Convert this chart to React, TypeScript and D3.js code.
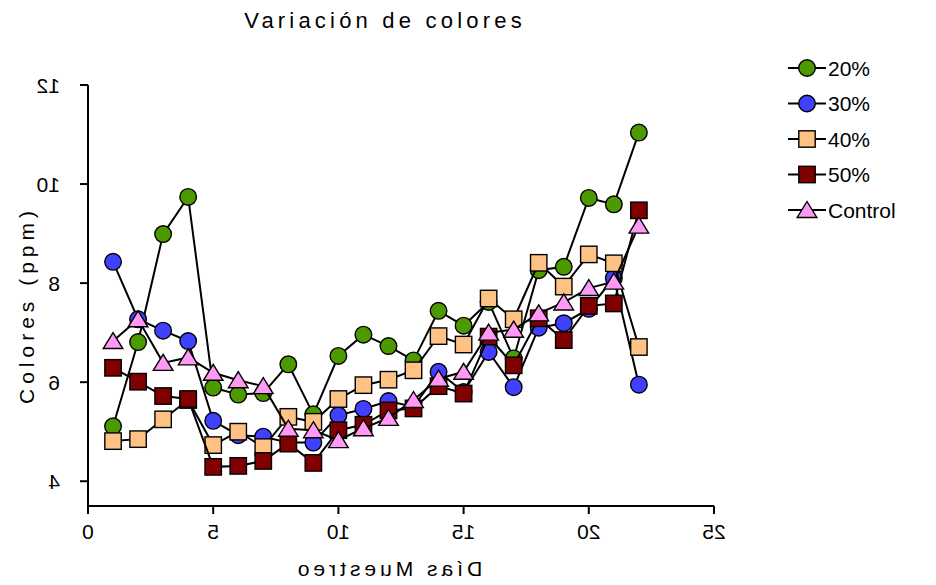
import React from 'react';
import * as d3 from 'd3';

// Sampling days (x) and colour readings (ppm) for each treatment
const days = [1, 2, 3, 4, 5, 6, 7, 8, 9, 10, 11, 12, 13, 14, 15, 16, 17, 18, 19, 20, 21, 22];
const serie20 = [5.11, 6.81, 8.99, 9.74, 5.89, 5.75, 5.78, 6.36, 5.35, 6.53, 6.96, 6.73, 6.44, 7.44, 7.14, 7.62, 6.48, 8.26, 8.33, 9.72, 9.59, 11.04];
const serie30 = [8.43, 7.27, 7.04, 6.83, 5.22, 4.93, 4.9, 4.78, 4.78, 5.33, 5.46, 5.62, 5.5, 6.21, 5.8, 6.61, 5.9, 7.1, 7.19, 7.48, 8.1, 5.95];
const serie40 = [4.81, 4.85, 5.25, 5.64, 4.73, 5.0, 4.69, 5.3, 5.2, 5.66, 5.94, 6.05, 6.24, 6.93, 6.76, 7.69, 7.27, 8.41, 7.93, 8.58, 8.4, 6.71];
const serie50 = [6.29, 6.01, 5.72, 5.66, 4.29, 4.31, 4.41, 4.76, 4.37, 5.03, 5.14, 5.43, 5.47, 5.92, 5.77, 6.92, 6.34, 7.29, 6.85, 7.54, 7.59, 9.47];
const control = [6.83, 7.27, 6.39, 6.5, 6.19, 6.04, 5.92, 5.06, 5.03, 4.83, 5.07, 5.28, 5.64, 6.07, 6.21, 7.0, 7.06, 7.39, 7.61, 7.9, 8.03, 9.16];

const seriesNames = ['20%', '30%', '40%', '50%', 'Control'];
const xTicks = [0, 5, 10, 15, 20, 25];
const yTicks = [4, 6, 8, 10, 12];

const title = 'Variación de colores';
const xTitle = 'Días Muestreo';
const yTitle = 'Colores (ppm)';

type Shape = 'circle' | 'square' | 'triangle';
const seriesValues = [serie20, serie30, serie40, serie50, control];
const seriesColors = ['#4d9900', '#4040ff', '#ffc285', '#800000', '#ff99f5'];
const seriesShapes: Shape[] = ['circle', 'circle', 'square', 'square', 'triangle'];

const W = 936;
const H = 585;
const FONT = '"Liberation Sans", Arial, sans-serif';

function Marker({ shape, cx, cy, fill }: { shape: Shape; cx: number; cy: number; fill: string }) {
  const common = { fill, stroke: '#000', strokeWidth: 1.4 };
  if (shape === 'circle') return <circle cx={cx} cy={cy} r={8.3} {...common} />;
  if (shape === 'square') return <rect x={cx - 8.2} y={cy - 8.2} width={16.4} height={16.4} {...common} />;
  const p = `M${cx},${cy - 8.5}L${cx + 9.8},${cy + 7.5}L${cx - 9.8},${cy + 7.5}Z`;
  return <path d={p} {...common} />;
}

export default function App() {
  const x = d3.scaleLinear().domain([0, 25]).range([88, 714]);
  const y = d3.scaleLinear().domain([3.5, 12]).range([506, 85]);
  const line = d3
    .line<number>()
    .x((_, i) => x(days[i]))
    .y((d) => y(d));

  const legendY = (i: number) => 68 + i * 35.5;

  return (
    <svg
      width={W}
      height={H}
      viewBox={`0 0 ${W} ${H}`}
      style={{ position: 'absolute', left: 0, top: 0, background: '#fff' }}
      fontFamily={FONT}
    >
      <rect x={0} y={0} width={W} height={H} fill="#fff" />

      {/* title */}
      <text x={385} y={28} textAnchor="middle" fontSize={22} letterSpacing={4.2} fill="#000">
        {title}
      </text>

      {/* y axis */}
      <line x1={x(0)} x2={x(0)} y1={y(12)} y2={y(3.5)} stroke="#000" strokeWidth={2} />
      {yTicks.map((t) => (
        <g key={`yt${t}`}>
          <line x1={x(0) - 8} x2={x(0)} y1={y(t)} y2={y(t)} stroke="#000" strokeWidth={2} />
          <text
            transform={`translate(0,${y(t) + 7.5}) scale(-1,1)`}
            x={-60}
            textAnchor="start"
            fontSize={21}
            fill="#000"
          >
            {t}
          </text>
        </g>
      ))}

      {/* x axis */}
      <line x1={x(0)} x2={x(25)} y1={y(3.5)} y2={y(3.5)} stroke="#000" strokeWidth={2} />
      {xTicks.map((t) => (
        <g key={`xt${t}`}>
          <line x1={x(t)} x2={x(t)} y1={y(3.5)} y2={y(3.5) + 8} stroke="#000" strokeWidth={2} />
          <text
            transform={`translate(${x(t)},${y(3.5) + 33}) scale(-1,1)`}
            textAnchor="middle"
            fontSize={21}
            fill="#000"
          >
            {t}
          </text>
        </g>
      ))}

      {/* axis titles */}
      <text
        transform={`translate(388,576) scale(-1,1)`}
        textAnchor="middle"
        fontSize={21}
        letterSpacing={4}
        fill="#000"
      >
        {xTitle}
      </text>
      <text
        transform={`translate(34,305) rotate(-90)`}
        textAnchor="middle"
        fontSize={21}
        letterSpacing={5}
        fill="#000"
      >
        {yTitle}
      </text>

      {/* series: line then markers, in series order */}
      {seriesValues.map((vals, si) => (
        <g key={`s${si}`}>
          <path d={line(vals) || ''} fill="none" stroke="#000" strokeWidth={2} />
          {vals.map((v, i) => (
            <Marker key={i} shape={seriesShapes[si]} cx={x(days[i])} cy={y(v)} fill={seriesColors[si]} />
          ))}
        </g>
      ))}

      {/* legend */}
      {seriesNames.map((name, i) => (
        <g key={`lg${i}`}>
          <line x1={788} x2={826} y1={legendY(i)} y2={legendY(i)} stroke="#000" strokeWidth={2} />
          <Marker shape={seriesShapes[i]} cx={807} cy={legendY(i)} fill={seriesColors[i]} />
          <text x={828} y={legendY(i) + 7.5} fontSize={21} fill="#000">
            {name}
          </text>
        </g>
      ))}
    </svg>
  );
}
